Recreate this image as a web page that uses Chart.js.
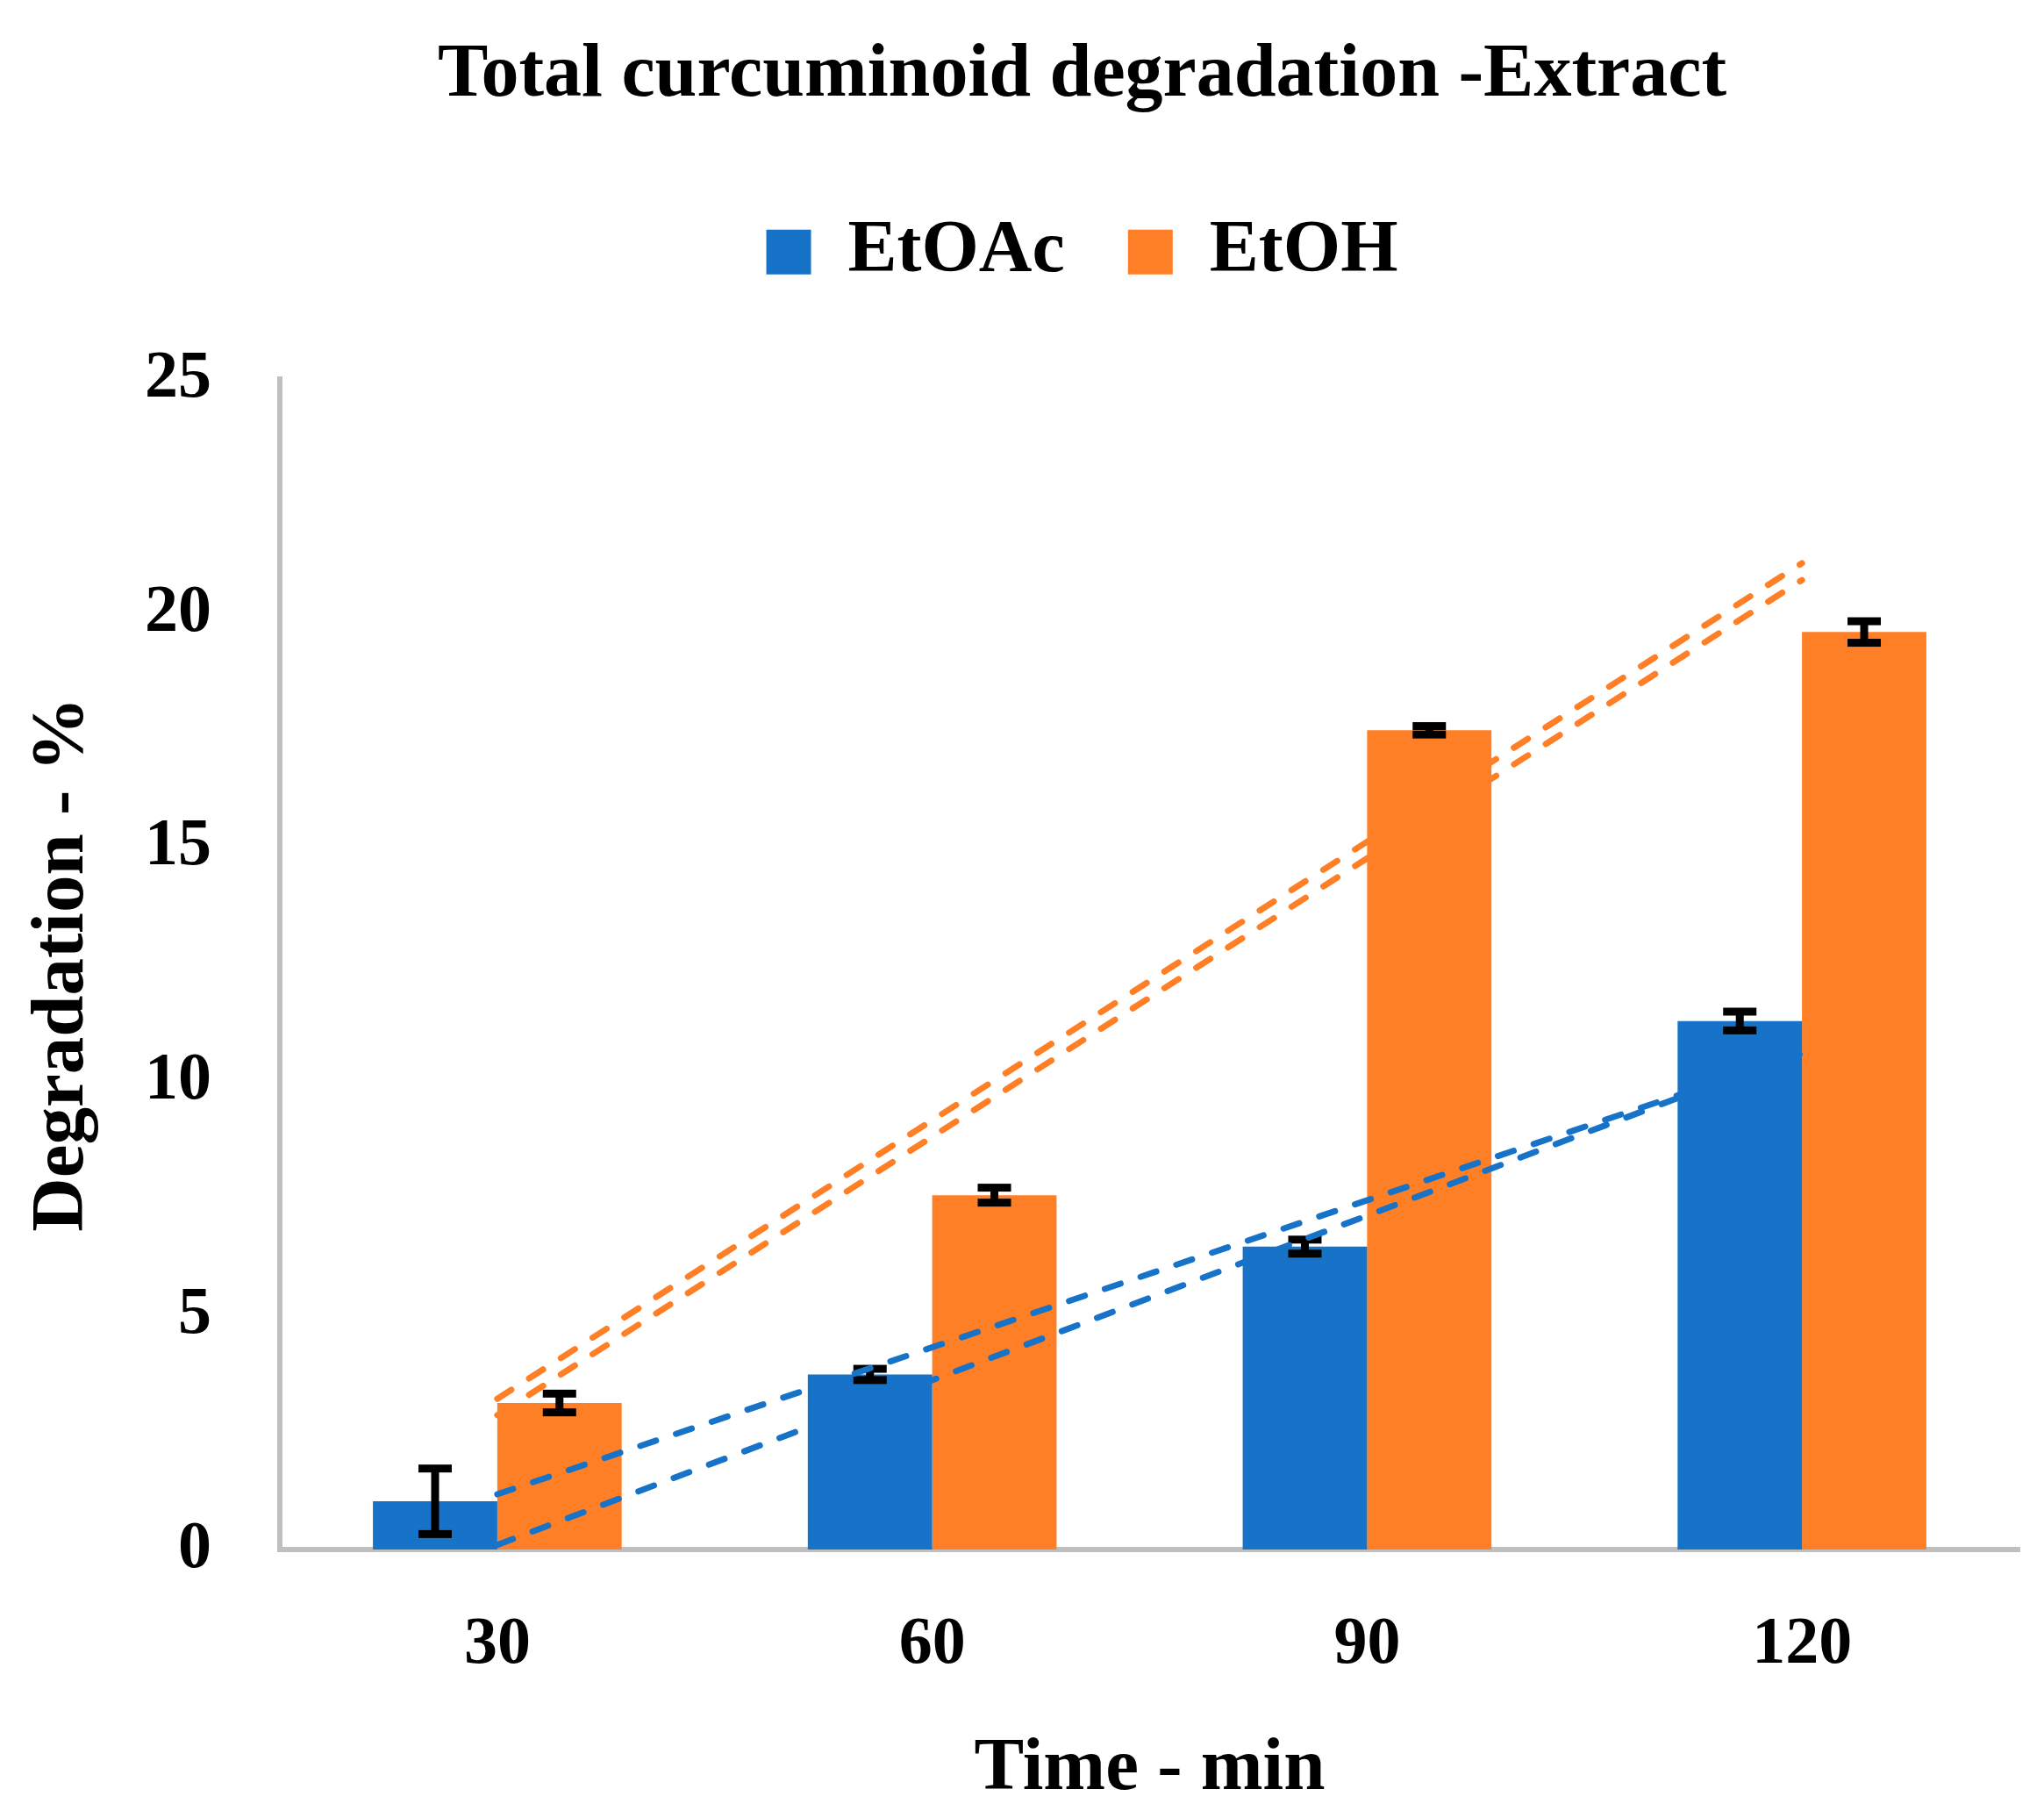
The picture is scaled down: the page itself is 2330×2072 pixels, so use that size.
<!DOCTYPE html>
<html>
<head>
<meta charset="utf-8">
<script src="https://cdn.jsdelivr.net/npm/chart.js@4"></script>
<style>
  html, body { margin: 0; padding: 0; background: #fff; }
  #wrap { width: 2330px; height: 2072px; }
</style>
</head>
<body>
<div id="wrap"><canvas id="myChart"></canvas></div>
<script>
const labels = ['30', '60', '90', '120'];
const etoac = [1.03, 3.74, 6.47, 11.29];
const etoacErr = [0.70, 0.12, 0.15, 0.20];
const etoh = [3.13, 7.57, 17.5, 19.6];
const etohErr = [0.20, 0.16, 0.09, 0.23];
const etoacTrend1 = [1.18, null, null, 10.6];
const etoacTrend2 = [0.10, null, null, 10.65];
const etohTrend1 = [3.22, null, null, 21.07];
const etohTrend2 = [2.87, null, null, 20.71];
const yTicks = [0, 5, 10, 15, 20, 25];

const BLUE = '#1773C8';
const ORANGE = '#FF7F27';

// black error bars, drawn right after each bar dataset
const errorBars = {
    id: 'errorBars',
    afterDatasetDraw(chart, args) {
        const ds = chart.data.datasets[args.index];
        if (!ds.errors) return;
        const ctx = chart.ctx;
        const y = chart.scales.y;
        ctx.save();
        ctx.fillStyle = '#000';
        args.meta.data.forEach((bar, i) => {
            const top = y.getPixelForValue(ds.data[i] + ds.errors[i]);
            const bot = y.getPixelForValue(ds.data[i] - ds.errors[i]);
            ctx.fillRect(bar.x - 4.5, top, 9, bot - top);
            ctx.fillRect(bar.x - 19, top - 4.5, 38, 9);
            ctx.fillRect(bar.x - 19, bot - 4.5, 38, 9);
        });
        ctx.restore();
    }
};

function trend(data, color) {
    return {
        type: 'line',
        data: data,
        borderColor: color,
        borderWidth: 7,
        borderDash: [19, 24],
        borderCapStyle: 'round',
        pointRadius: 0,
        spanGaps: true,
        fill: false,
        order: 0,
    };
}

Chart.defaults.font.family = "'Liberation Serif', 'Times New Roman', serif";
Chart.defaults.font.weight = 'bold';
Chart.defaults.color = '#000';

new Chart(document.getElementById('myChart'), {
    type: 'bar',
    data: {
        labels: labels,
        datasets: [
            {label: 'EtOAc', data: etoac, errors: etoacErr, backgroundColor: BLUE,
             categoryPercentage: 0.572, barPercentage: 1, order: 1},
            {label: 'EtOH', data: etoh, errors: etohErr, backgroundColor: ORANGE,
             categoryPercentage: 0.572, barPercentage: 1, order: 1},
            trend(etoacTrend1, BLUE),
            trend(etoacTrend2, BLUE),
            trend(etohTrend1, ORANGE),
            trend(etohTrend2, ORANGE),
        ],
    },
    options: {
        responsive: true,
        maintainAspectRatio: false,
        devicePixelRatio: 1,
        animation: false,
        layout: {
            padding: {left: 165, right: 28, top: 0, bottom: 0},
        },
        plugins: {
            title: {
                display: true,
                text: 'Total curcuminoid degradation -Extract',
                color: '#000',
                font: {size: 86, weight: 'bold'},
                padding: {top: 35, bottom: 35},
            },
            legend: {
                position: 'top',
                weight: 1800,
                labels: {
                    boxWidth: 51,
                    boxHeight: 51,
                    padding: 72,
                    color: '#000',
                    font: {size: 84, weight: 'bold'},
                    filter: item => item.datasetIndex < 2,
                },
            },
            // empty spacer between legend and plot
            subtitle: {
                display: true,
                text: '',
                font: {size: 10, lineHeight: 1},
                padding: {top: 83, bottom: 0},
            },
            tooltip: {enabled: false},
        },
        scales: {
            x: {
                afterFit: s => { s.height = 306; },
                grid: {display: false, drawTicks: false},
                border: {display: true, color: '#BFBFBF', width: 6},
                ticks: {padding: 64, color: '#000', font: {size: 76, weight: 'bold'}},
                title: {
                    display: true,
                    text: 'Time - min',
                    color: '#000',
                    font: {size: 85, weight: 'bold'},
                    padding: {top: 0, bottom: 4},
                },
            },
            y: {
                min: 0,
                max: 25,
                afterBuildTicks: s => { s.ticks = yTicks.map(v => ({value: v})); },
                afterFit: s => { s.width = 154; },
                grid: {display: false, drawTicks: false},
                border: {display: true, color: '#BFBFBF', width: 6},
                ticks: {padding: 78, color: '#000', font: {size: 76, weight: 'bold'}},
                title: {
                    display: true,
                    text: 'Degradation - %',
                    color: '#000',
                    font: {size: 85, weight: 'bold'},
                    padding: {top: -144, bottom: 0},
                },
            },
        },
    },
    plugins: [errorBars],
});
</script>
</body>
</html>
